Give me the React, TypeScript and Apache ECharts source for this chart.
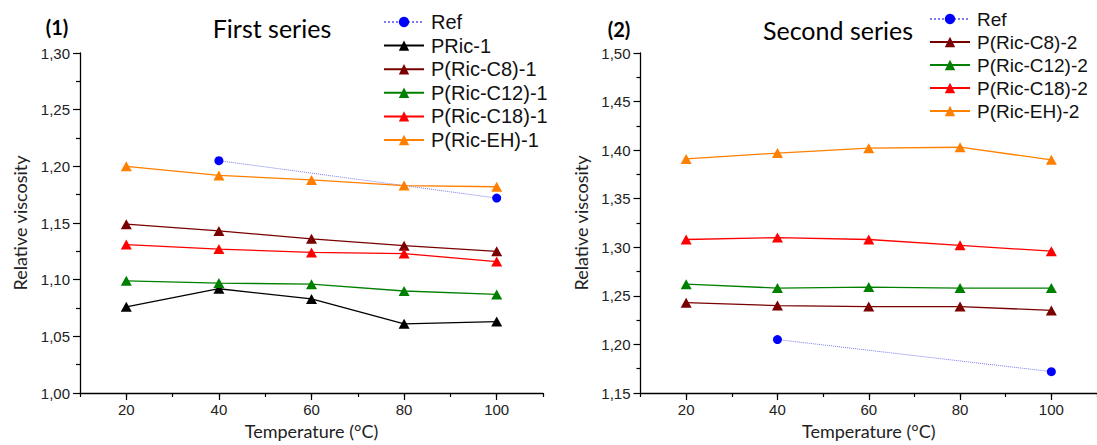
import React, { useEffect, useRef } from "react";
import * as echarts from "echarts";

const temps = [20, 40, 60, 80, 100];
const refTemps = [40, 100];
const refValues = [1.205, 1.172];

const pric1 = [1.076, 1.092, 1.083, 1.061, 1.063];
const c8s1 = [1.149, 1.143, 1.136, 1.13, 1.125];
const c12s1 = [1.099, 1.097, 1.096, 1.09, 1.087];
const c18s1 = [1.131, 1.127, 1.124, 1.123, 1.116];
const ehs1 = [1.2, 1.192, 1.188, 1.183, 1.182];

const c8s2 = [1.243, 1.24, 1.239, 1.239, 1.235];
const c12s2 = [1.262, 1.258, 1.259, 1.258, 1.258];
const c18s2 = [1.308, 1.31, 1.308, 1.302, 1.296];
const ehs2 = [1.391, 1.397, 1.402, 1.403, 1.39];

const xMajor = [20, 40, 60, 80, 100];

const legend1 = ["Ref", "PRic-1", "P(Ric-C8)-1", "P(Ric-C12)-1", "P(Ric-C18)-1", "P(Ric-EH)-1"];
const legend2 = ["Ref", "P(Ric-C8)-2", "P(Ric-C12)-2", "P(Ric-C18)-2", "P(Ric-EH)-2"];

const COLORS = {
  ref: "#0000ff",
  refLine: "#7c7cf0",
  pric: "#000000",
  c8: "#7a0000",
  c12: "#008000",
  c18: "#ff0000",
  eh: "#ff8000",
};

const pairs = (xs: number[], ys: number[]) => xs.map((x, i) => [x, ys[i]]);

function triSeries(name: string, color: string, values: number[], xi: number, yi: number) {
  return {
    type: "line",
    name,
    xAxisIndex: xi,
    yAxisIndex: yi,
    data: pairs(temps, values),
    symbol: "triangle",
    symbolSize: [11, 10],
    lineStyle: { color, width: 1.3 },
    itemStyle: { color },
    emphasis: { disabled: true },
  };
}

function refSeries(xi: number, yi: number) {
  return {
    type: "line",
    name: "Ref",
    xAxisIndex: xi,
    yAxisIndex: yi,
    data: pairs(refTemps, refValues),
    symbol: "circle",
    symbolSize: 9,
    lineStyle: { color: COLORS.refLine, width: 1, type: "dotted" },
    itemStyle: { color: COLORS.ref },
    emphasis: { disabled: true },
    z: 1,
  };
}

const axisColor = "#000";
const labelColor = "#222";

function mainX(gridIndex: number) {
  return {
    type: "value",
    gridIndex,
    min: 10,
    max: 110,
    interval: 10,
    position: "bottom",
    axisLine: { show: true, onZero: false, lineStyle: { color: axisColor, width: 1.3 } },
    axisTick: { show: true, length: 4, lineStyle: { color: axisColor, width: 1.2 } },
    axisLabel: {
      customValues: xMajor,
      formatter: (v: number) => (v % 20 === 0 && v >= 20 && v <= 100 ? String(v) : ""),
      fontFamily: "Liberation Sans",
      fontSize: 15,
      color: labelColor,
      margin: 9,
    },
    splitLine: { show: false },
    name: "Temperature (°C)",
    nameLocation: "middle",
    nameGap: 29,
    nameTextStyle: { fontFamily: "Lato", fontSize: 18, color: labelColor },
  };
}

function majorX(gridIndex: number) {
  return {
    type: "value",
    gridIndex,
    min: 10,
    max: 110,
    interval: 10,
    position: "bottom",
    axisLine: { show: false, onZero: false },
    axisTick: { show: true, customValues: xMajor, length: 7, lineStyle: { color: axisColor, width: 1.2 } },
    axisLabel: { show: false },
    splitLine: { show: false },
  };
}

function yAx(gridIndex: number, min: number, max: number) {
  return {
    type: "value",
    gridIndex,
    min,
    max,
    interval: 0.05,
    axisLine: { show: true, onZero: false, lineStyle: { color: axisColor, width: 1.3 } },
    axisTick: { show: true, length: 7, lineStyle: { color: axisColor, width: 1.2 } },
    minorTick: { show: true, splitNumber: 2, length: 4, lineStyle: { color: axisColor, width: 1.2 } },
    axisLabel: {
      formatter: (v: number) => v.toFixed(2).replace(".", ","),
      fontFamily: "Liberation Sans",
      fontSize: 15,
      color: labelColor,
      margin: 10,
    },
    splitLine: { show: false },
    name: "Relative viscosity",
    nameLocation: "middle",
    nameGap: 51,
    nameTextStyle: { fontFamily: "Lato", fontSize: 18, color: labelColor },
  };
}

function legendCfg(data: string[], left: number, top: number, gap: number, size: number) {
  return {
    data,
    orient: "vertical",
    left,
    top,
    padding: 0,
    itemWidth: 40,
    itemHeight: 13,
    itemGap: gap,
    selectedMode: false,
    textStyle: { fontFamily: "Liberation Sans", fontSize: size, color: "#111", lineHeight: 20, padding: [0, 0, 0, 2] },
  };
}

function textEl(text: string, x: number, y: number, size: number, weight: string) {
  return {
    type: "text",
    x,
    y,
    style: {
      text,
      fontFamily: "Lato",
      fontSize: size,
      fontWeight: weight,
      fill: "#000",
      align: "center",
      verticalAlign: "middle",
    },
  };
}

export default function App() {
  const ref = useRef<HTMLDivElement>(null);
  useEffect(() => {
    const chart = echarts.init(ref.current!, null, { renderer: "svg" });
    const option = {
      animation: false,
      backgroundColor: "#ffffff",
      grid: [
        { left: 80, top: 53, width: 463, height: 343 },
        { left: 640.5, top: 53, width: 464, height: 343 },
      ],
      xAxis: [mainX(0), majorX(0), mainX(1), majorX(1)],
      yAxis: [yAx(0, 1.0, 1.3), yAx(1, 1.15, 1.5)],
      legend: [legendCfg(legend1, 383, 12, 3.6, 20), legendCfg(legend2, 929, 9, 3, 19)],
      graphic: [
        textEl("(1)", 57, 27, 20, "bold"),
        textEl("First series", 272, 28, 25, "normal"),
        textEl("(2)", 619, 29, 20, "bold"),
        textEl("Second series", 838, 30, 25, "normal"),
      ],
      series: [
        refSeries(0, 0),
        triSeries("PRic-1", COLORS.pric, pric1, 0, 0),
        triSeries("P(Ric-C8)-1", COLORS.c8, c8s1, 0, 0),
        triSeries("P(Ric-C12)-1", COLORS.c12, c12s1, 0, 0),
        triSeries("P(Ric-C18)-1", COLORS.c18, c18s1, 0, 0),
        triSeries("P(Ric-EH)-1", COLORS.eh, ehs1, 0, 0),
        refSeries(2, 1),
        triSeries("P(Ric-C8)-2", COLORS.c8, c8s2, 2, 1),
        triSeries("P(Ric-C12)-2", COLORS.c12, c12s2, 2, 1),
        triSeries("P(Ric-C18)-2", COLORS.c18, c18s2, 2, 1),
        triSeries("P(Ric-EH)-2", COLORS.eh, ehs2, 2, 1),
      ],
    };
    chart.setOption(option as any);
    return () => chart.dispose();
  }, []);
  return (
    <div
      ref={ref}
      style={{ position: "fixed", left: 0, top: 0, width: 1097, height: 445, background: "#fff" }}
    />
  );
}
